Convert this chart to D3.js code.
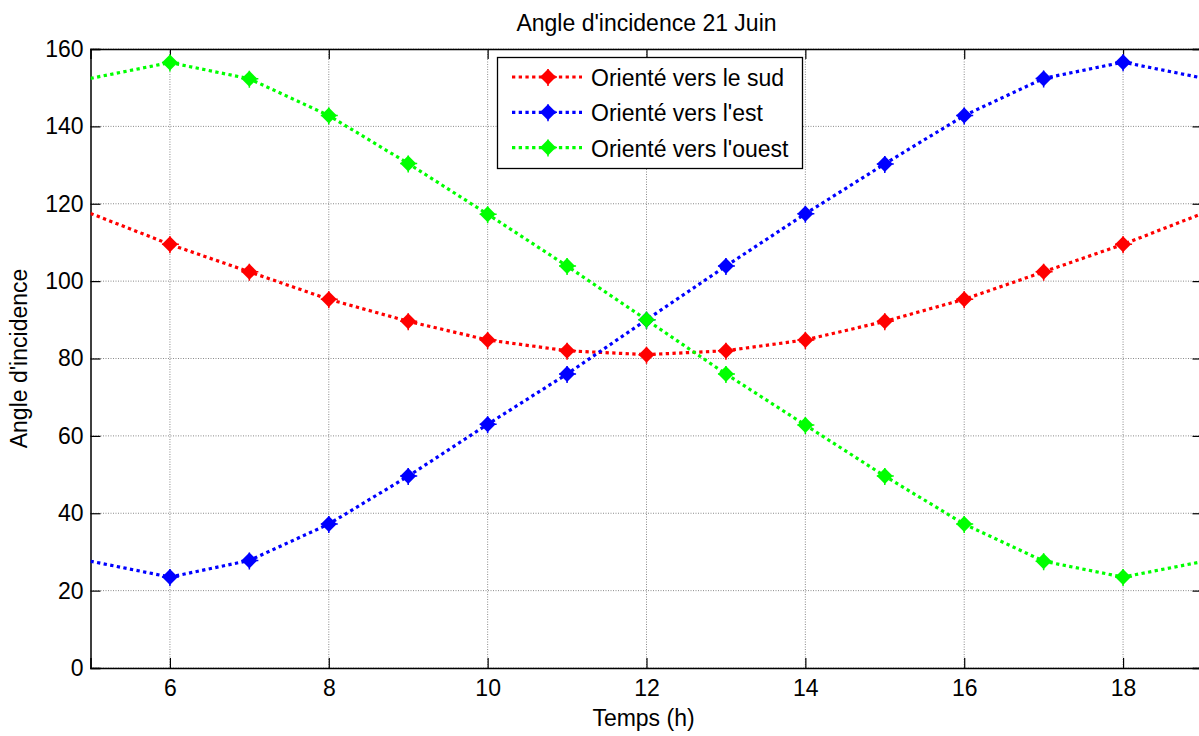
<!DOCTYPE html>
<html>
<head>
<meta charset="utf-8">
<style>
  body { margin: 0; background: #fff; }
  svg { display: block; font-family: "Liberation Sans", Arial, sans-serif; }
  .grid line { stroke: #8a8a8a; stroke-width: 1; stroke-dasharray: 1,1.5; }
  .tick-label { font-size: 23px; fill: #000; }
  .series { fill: none; stroke-width: 3.2; stroke-dasharray: 3.3,3.4; }
</style>
<script src="https://d3js.org/d3.v7.min.js"></script>
</head>
<body>
<svg width="1199" height="736"></svg>
<script>
// hours of the day
var hours = [5, 6, 7, 8, 9, 10, 11, 12, 13, 14, 15, 16, 17, 18, 19];
// incidence angle, panel facing south / east / west
var sud   = [117.5, 109.5, 102.4, 95.3, 89.6, 84.8, 82.0, 81.0, 82.0, 84.8, 89.6, 95.3, 102.4, 109.5, 117.5];
var est   = [27.6, 23.5, 27.8, 37.2, 49.6, 63.0, 76.0, 90.0, 103.9, 117.4, 130.3, 142.8, 152.4, 156.6, 152.5];
var ouest = [152.4, 156.5, 152.3, 142.8, 130.4, 117.3, 103.9, 90.0, 76.0, 62.8, 49.6, 37.2, 27.6, 23.5, 27.5];

var xTicks = [6, 8, 10, 12, 14, 16, 18];
var yTicks = [0, 20, 40, 60, 80, 100, 120, 140, 160];

var seriesNames = ["Orienté vers le sud", "Orienté vers l'est", "Orienté vers l'ouest"];
var seriesColors = ["#ff0000", "#0000ff", "#00ff00"];
var seriesValues = [sud, est, ouest];

var svg = d3.select("svg");
var pLeft = 90.5, pRight = 1202.5, pTop = 49, pBottom = 668;

var x = d3.scaleLinear().domain([5, 19]).range([pLeft, pRight]);
var y = d3.scaleLinear().domain([0, 160]).range([pBottom, pTop]);

svg.append("defs").append("clipPath").attr("id", "plot")
   .append("rect")
   .attr("x", pLeft).attr("y", pTop)
   .attr("width", pRight - pLeft).attr("height", pBottom - pTop);

// grid lines
var grid = svg.append("g").attr("class", "grid");
grid.selectAll(".gx").data(xTicks).enter().append("line")
    .attr("x1", function(d) { return x(d); }).attr("x2", function(d) { return x(d); })
    .attr("y1", pTop).attr("y2", pBottom);
grid.selectAll(".gy").data(yTicks).enter().append("line")
    .attr("x1", pLeft).attr("x2", pRight)
    .attr("y1", function(d) { return y(d); }).attr("y2", function(d) { return y(d); });

// axes (ticks pointing inward, box on all sides)
var tickLen = 10;
svg.append("g").attr("transform", "translate(0," + pBottom + ")")
   .call(d3.axisBottom(x).tickValues(xTicks).tickSize(-tickLen).tickPadding(12));
svg.append("g").attr("transform", "translate(0," + pTop + ")")
   .call(d3.axisTop(x).tickValues(xTicks).tickSize(-tickLen).tickFormat(""));
svg.append("g").attr("transform", "translate(" + pLeft + ",0)")
   .call(d3.axisLeft(y).tickValues(yTicks).tickSize(-tickLen).tickPadding(7));
svg.append("g").attr("transform", "translate(" + pRight + ",0)")
   .call(d3.axisRight(y).tickValues(yTicks).tickSize(-tickLen).tickFormat(""));

svg.selectAll(".domain").attr("stroke", "#000").attr("stroke-width", 1.5);
svg.selectAll(".tick line").attr("stroke", "#000").attr("stroke-width", 1.2);
svg.selectAll(".tick text").attr("class", "tick-label")
   .attr("font-family", null).attr("font-size", null);

// marker: filled diamond with a thin cross
function marker(g, color) {
  g.append("path")
   .attr("d", "M0,-8L8,0L0,8L-8,0Z")
   .attr("fill", color);
  g.append("path")
   .attr("d", "M-8,0H9M0,-8V9")
   .attr("stroke", color).attr("stroke-width", 1.5);
}

var line = d3.line()
    .x(function(d, i) { return x(hours[i]); })
    .y(function(d) { return y(d); });

var plot = svg.append("g").attr("clip-path", "url(#plot)");

seriesValues.forEach(function(vals, s) {
  plot.append("path")
      .datum(vals)
      .attr("class", "series")
      .attr("stroke", seriesColors[s])
      .attr("d", line);

  plot.selectAll(".m" + s)
      .data(vals.map(function(v, i) { return [hours[i], v]; })
                .filter(function(p) { return p[0] > 5 && p[0] < 19; }))
      .enter().append("g")
      .attr("transform", function(p) { return "translate(" + x(p[0]) + "," + y(p[1]) + ")"; })
      .each(function() { marker(d3.select(this), seriesColors[s]); });
});

// legend
var legend = svg.append("g");
legend.append("rect")
      .attr("x", 497.5).attr("y", 57.5).attr("width", 305).attr("height", 111)
      .attr("fill", "#fff").attr("stroke", "#000").attr("stroke-width", 1.3);
seriesNames.forEach(function(name, s) {
  var ly = 77 + s * 35.3;
  legend.append("line")
        .attr("class", "series")
        .attr("x1", 512).attr("x2", 582).attr("y1", ly).attr("y2", ly)
        .attr("stroke", seriesColors[s]);
  var mg = legend.append("g").attr("transform", "translate(548," + ly + ")");
  marker(mg, seriesColors[s]);
  legend.append("text")
        .attr("x", 591).attr("y", ly + 9)
        .attr("font-size", 23)
        .text(name);
});

// title and axis labels
svg.append("text")
   .attr("x", (pLeft + pRight) / 2).attr("y", 31)
   .attr("text-anchor", "middle").attr("font-size", 23)
   .text("Angle d'incidence 21 Juin");
svg.append("text")
   .attr("x", (pLeft + pRight) / 2 - 3).attr("y", 726)
   .attr("text-anchor", "middle").attr("font-size", 23)
   .text("Temps (h)");
svg.append("text")
   .attr("transform", "translate(27," + (pTop + pBottom) / 2 + ") rotate(-90)")
   .attr("text-anchor", "middle").attr("font-size", 23)
   .text("Angle d'incidence");
</script>
</body>
</html>
